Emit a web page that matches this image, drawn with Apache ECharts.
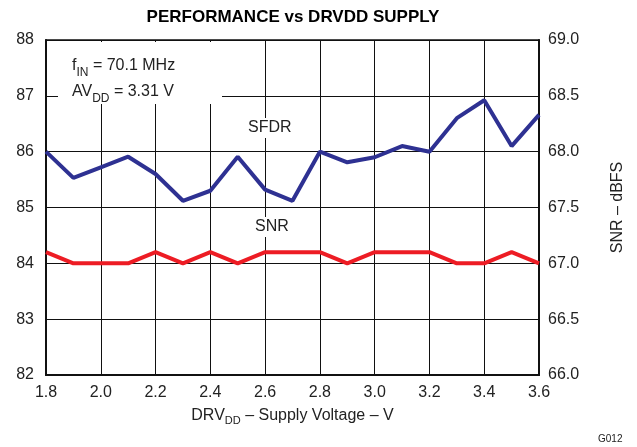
<!DOCTYPE html>
<html>
<head>
<meta charset="utf-8">
<script src="https://cdn.jsdelivr.net/npm/echarts@6/dist/echarts.min.js"></script>
<style>
  html, body { margin: 0; padding: 0; background: #fff; }
  #main { width: 637px; height: 447px; }
</style>
</head>
<body>
<div id="main"></div>
<script>
// supply voltage, V
var voltage = [1.8, 1.9, 2.0, 2.1, 2.2, 2.3, 2.4, 2.5, 2.6, 2.7, 2.8, 2.9, 3.0, 3.1, 3.2, 3.3, 3.4, 3.5, 3.6];
// SFDR, dBc (left axis)
var sfdr = [86.0, 85.53, 85.72, 85.91, 85.6, 85.12, 85.3, 85.91, 85.32, 85.12, 86.0, 85.81, 85.9, 86.1, 86.0, 86.6, 86.92, 86.1, 86.66];
// SNR, dBFS (right axis)
var snr = [67.1, 67.0, 67.0, 67.0, 67.1, 67.0, 67.1, 67.0, 67.1, 67.1, 67.1, 67.0, 67.1, 67.1, 67.1, 67.0, 67.0, 67.1, 67.0];

var leftTicks = [82, 83, 84, 85, 86, 87, 88];
var rightTicks = [66.0, 66.5, 67.0, 67.5, 68.0, 68.5, 69.0];

function pairs(xs, ys) {
    return xs.map(function (x, i) { return [x, ys[i]]; });
}

var font = 'Liberation Sans, Arial, sans-serif';
var labelStyle = { color: '#222', fontSize: 16, fontFamily: font };

var myChart = echarts.init(document.getElementById('main'));

myChart.setOption({
    animation: false,
    grid: {
        left: 46, right: 98, top: 40, bottom: 72,
        show: true, borderColor: '#111', borderWidth: 1.5
    },
    xAxis: {
        type: 'value',
        min: 1.8, max: 3.6, interval: 0.2,
        axisLine: { show: true, lineStyle: { color: '#111', width: 2 } },
        axisTick: { show: false },
        splitLine: { show: true, lineStyle: { color: '#111', width: 1 } },
        axisLabel: Object.assign({ margin: 10, formatter: function (v) { return v.toFixed(1); } }, labelStyle),
        name: '{n|DRV}{s|DD}{n| – Supply Voltage – V}',
        nameLocation: 'middle',
        nameGap: 31,
        nameTextStyle: {
            rich: {
                n: { fontSize: 16, color: '#222', fontFamily: font, lineHeight: 20 },
                s: { fontSize: 11, color: '#222', fontFamily: font, lineHeight: 20, verticalAlign: 'bottom', padding: [8, 0, 0, 0] }
            }
        }
    },
    yAxis: [{
        type: 'value',
        min: leftTicks[0], max: leftTicks[leftTicks.length - 1], interval: 1,
        axisLine: { show: true, lineStyle: { color: '#111', width: 2 } },
        axisTick: { show: false },
        splitLine: { show: true, lineStyle: { color: '#111', width: 1 } },
        axisLabel: Object.assign({ margin: 12 }, labelStyle)
    }, {
        type: 'value',
        position: 'right',
        min: rightTicks[0], max: rightTicks[rightTicks.length - 1], interval: 0.5,
        axisLine: { show: true, lineStyle: { color: '#111', width: 2 } },
        axisTick: { show: false },
        splitLine: { show: false },
        axisLabel: Object.assign({ margin: 9, formatter: function (v) { return v.toFixed(1); } }, labelStyle),
        name: 'SNR – dBFS',
        nameLocation: 'middle',
        nameRotate: 90,
        nameGap: 71,
        nameTextStyle: labelStyle
    }],
    series: [{
        name: 'SFDR',
        type: 'line',
        yAxisIndex: 0,
        data: pairs(voltage, sfdr),
        symbol: 'none',
        lineStyle: { color: '#2e3192', width: 4 },
        z: 5
    }, {
        name: 'SNR',
        type: 'line',
        yAxisIndex: 1,
        data: pairs(voltage, snr),
        symbol: 'none',
        lineStyle: { color: '#ed1c24', width: 4 },
        z: 5
    }],
    graphic: [{
        type: 'text', x: 293, y: 9,
        style: { text: 'PERFORMANCE vs DRVDD SUPPLY', fontSize: 17, fontWeight: 'bold', fontFamily: font, fill: '#000', align: 'center', textAlign: 'center' }
    }, {
        type: 'rect', shape: { x: 58, y: 42, width: 164, height: 62 }, style: { fill: '#fff' }, z: 3
    }, {
        type: 'text', x: 72, y: 53, z: 4,
        style: {
            text: '{n|f}{s|IN}{n| = 70.1 MHz}\n{n|AV}{s|DD}{n| = 3.31 V}',
            rich: {
                n: { fontSize: 16, fill: '#222', fontFamily: font, lineHeight: 26 },
                s: { fontSize: 12, fill: '#222', fontFamily: font, lineHeight: 26, verticalAlign: 'bottom', padding: [8, 0, 0, 0] }
            }
        }
    }, {
        type: 'text', x: 244, y: 118, z: 4,
        style: { text: 'SFDR', fontSize: 16, fontFamily: font, fill: '#222', backgroundColor: '#fff', padding: [2, 4] }
    }, {
        type: 'text', x: 251, y: 217, z: 4,
        style: { text: 'SNR', fontSize: 16, fontFamily: font, fill: '#222', backgroundColor: '#fff', padding: [2, 4] }
    }, {
        type: 'text', x: 598, y: 434,
        style: { text: 'G012', fontSize: 10, fontFamily: font, fill: '#222' }
    }]
});
</script>
</body>
</html>
